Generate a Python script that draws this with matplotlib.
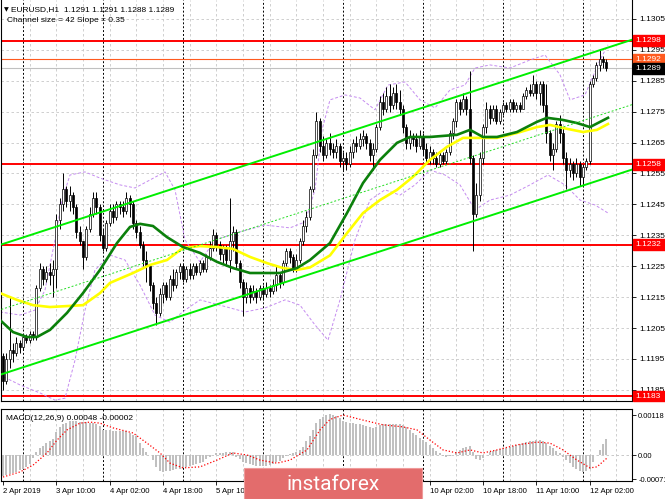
import matplotlib
matplotlib.use('Agg')
import matplotlib.pyplot as plt
import matplotlib.transforms as mtransforms
from matplotlib.patches import Rectangle
import numpy as np

plt.rcParams['font.family'] = ['Liberation Sans', 'DejaVu Sans']

# EURUSD H1 candles, 2 Apr 18:00 .. 12 Apr 07:00, prices in pips above 1.1100
first_open = 96
closes = [88, 95, 98, 97, 100, 99, 102, 101, 103, 102,
          118, 124, 121, 123, 122, 124, 140, 145, 150, 146,
          148, 144, 136, 133, 128, 137, 142, 147, 144, 135,
          131, 139, 143, 141, 145, 144, 143, 147, 145, 139,
          136, 132, 127, 125, 119, 113, 110, 116, 119, 115,
          121, 119, 123, 125, 121, 124, 122, 125, 123, 126,
          124, 128, 131, 135, 132, 129, 131, 127, 133, 136,
          126, 120, 115, 118, 115, 117, 115, 118, 116, 118,
          117, 119, 122, 120, 126, 130, 128, 124, 127, 133,
          138, 141, 150, 161, 172, 164, 161, 165, 163, 162,
          164, 159, 160, 158, 162, 165, 164, 166, 167, 165,
          161, 163, 170, 178, 176, 180, 177, 181, 178, 176,
          170, 165, 167, 166, 164, 167, 163, 160, 162, 160,
          158, 161, 159, 162, 168, 172, 178, 176, 179, 176,
          160, 142, 148, 160, 170, 176, 173, 176, 172, 175,
          177, 176, 178, 176, 177, 176, 180, 182, 181, 184,
          181, 184, 177, 168, 161, 163, 171, 168, 160, 156,
          158, 155, 158, 154, 157, 159, 184, 186, 190, 192, 191, 189]
highs = [97, 97, 115, 100, 102, 101, 103, 103, 104, 104,
         119, 126, 125, 125, 126, 127, 142, 147, 155, 151,
         151, 149, 145, 138, 133, 138, 144, 149, 149, 145,
         137, 140, 145, 145, 146, 146, 146, 149, 148, 146,
         140, 138, 133, 130, 125, 120, 115, 118, 120, 120,
         122, 124, 124, 126, 126, 125, 126, 126, 126, 127,
         127, 129, 133, 137, 136, 133, 132, 132, 147, 138,
         137, 127, 121, 120, 119, 119, 118, 119, 119, 120,
         119, 121, 125, 123, 127, 131, 131, 129, 129, 134,
         140, 143, 151, 163, 175, 173, 167, 166, 168, 165,
         166, 165, 162, 162, 164, 166, 167, 168, 169, 168,
         166, 165, 171, 180, 181, 183, 184, 183, 184, 182,
         177, 171, 169, 168, 168, 169, 168, 165, 164, 163,
         162, 162, 162, 163, 169, 173, 179, 179, 181, 180,
         188, 161, 152, 162, 171, 178, 177, 177, 177, 176,
         178, 178, 179, 179, 178, 178, 181, 183, 184, 187,
         185, 185, 185, 184, 169, 165, 172, 174, 170, 162,
         160, 159, 160, 159, 158, 160, 185, 187, 191, 195, 193, 192]
lows = [85, 87, 92, 94, 96, 97, 98, 100, 100, 101,
        101, 117, 119, 120, 119, 115, 118, 137, 143, 144,
        143, 142, 134, 132, 124, 127, 136, 141, 142, 133,
        130, 130, 138, 139, 140, 142, 141, 142, 141, 137,
        134, 131, 125, 120, 117, 111, 106, 109, 113, 114,
        114, 117, 118, 121, 120, 120, 121, 121, 122, 122,
        123, 123, 127, 130, 130, 127, 126, 125, 123, 130,
        124, 118, 109, 113, 113, 114, 113, 114, 114, 115,
        115, 116, 117, 118, 119, 125, 126, 123, 123, 126,
        132, 136, 140, 149, 160, 162, 159, 160, 161, 160,
        160, 157, 156, 156, 157, 160, 162, 163, 164, 163,
        159, 156, 162, 169, 174, 175, 175, 176, 176, 174,
        168, 163, 163, 164, 162, 163, 161, 158, 158, 158,
        157, 157, 158, 158, 161, 166, 170, 174, 175, 174,
        158, 130, 141, 146, 158, 168, 171, 172, 171, 171,
        174, 175, 175, 175, 175, 175, 176, 179, 180, 180,
        179, 177, 175, 165, 159, 156, 162, 165, 158, 150,
        154, 153, 154, 151, 151, 156, 158, 183, 185, 188, 189, 188]

# moving averages and bollinger bands (bar index, pips)
green_x = [-0.9, 3, 7.2, 10.2, 14.1, 19.2, 24, 29.1, 34.2, 38.1, 41.1, 45, 49.2, 54,
           59.1, 64.2, 69, 74.1, 79.2, 83.1, 88.2, 92.1, 98.1, 103.2, 108, 113.1,
           118.2, 122.1, 128.1, 136.2, 140.1, 144, 148.2, 154.2, 160.2, 163.2, 168,
           172.2, 176.1, 181.5]
green_y = [107.6, 103.7, 102.1, 102.1, 104.4, 109.9, 116.3, 123.8, 132.5, 137.7, 138.7,
           138, 134.4, 131.2, 129.3, 126.4, 124.4, 122.8, 122.8, 122.8, 124.4, 127,
           132.5, 142.2, 151.9, 159.4, 164.9, 166.8, 166.8, 167.5, 169.1, 166.8, 166.8,
           168.4, 171.7, 173, 172.3, 171.3, 170, 173]
yellow_x = [-0.9, 4.2, 9, 14.1, 19.2, 24, 29.1, 32.1, 39, 44.1, 49.2, 54, 59.1, 64.2,
            69, 74.1, 79.2, 84, 88.2, 92.1, 98.1, 103.2, 108, 113.1, 118.2, 123, 128.1,
            133.2, 138, 143.1, 148.2, 154.2, 160.2, 164.1, 168, 174, 178.2, 181.5]
yellow_y = [116.3, 114.1, 112.4, 111.8, 112.1, 112.4, 116.3, 119.6, 122.8, 125.4, 127,
            130.9, 131.5, 131.2, 130.6, 128, 126, 124.4, 123.8, 124.6, 128.5, 135.7,
            142.2, 146.4, 149.7, 153.9, 159.4, 163.6, 166.5, 166.5, 166.5, 168.1, 170,
            170.7, 169.7, 168.4, 169.1, 171]
bb_up_x = [-0.9, 5.1, 9.6, 12.6, 15.6, 17.7, 20.1, 24.6, 29.1, 35.1, 39.6, 44.1, 48.6,
           51.6, 54.6, 59.1, 63.6, 71.1, 78.6, 86.1, 90.6, 93.6, 95.7, 98.1, 102.6,
           107.1, 111.6, 115.5, 120.6, 125.1, 129.6, 134.1, 138.6, 141.6, 146.1,
           152.1, 158.1, 162.6, 167.1, 170.1, 174.6, 179.1, 181.5]
bb_up_y = [110.2, 109.2, 110.8, 117.3, 133.5, 146.4, 154.5, 155.5, 153.5, 151.3, 150.3,
           152.9, 155.5, 149.7, 133.5, 126.4, 133.5, 136.1, 138.3, 137.4, 139.3, 149.7,
           169.1, 178.8, 180.4, 179.4, 175.6, 183.6, 184.6, 178.8, 176.2, 182, 183.6,
           189.1, 190.1, 189.1, 191.7, 193.3, 186.9, 178.8, 180.4, 191.7, 196.6]
bb_lo_x = [-0.9, 5.1, 11.1, 15.6, 18.6, 21.6, 24.6, 27.6, 32.1, 36.6, 41.1, 45.6, 50.1,
           54.6, 59.1, 65.1, 72.6, 78.6, 84.6, 89.1, 93.6, 97.5, 101.1, 105.6, 110.1,
           114.6, 119.1, 123.6, 128.1, 132.6, 137.1, 141.6, 146.1, 152.1, 158.1,
           163.5, 168.6, 173.1, 177.6, 181.5]
bb_lo_y = [89.8, 86.6, 84, 81.7, 82.3, 94.6, 110.8, 123.8, 128.6, 127, 118.9, 109.2,
           106.9, 110.8, 114.1, 112.4, 110.2, 111.5, 114.1, 112.4, 106, 101.1, 114.1,
           133.5, 146.4, 149.7, 148, 151.3, 156.1, 154.5, 151.3, 143.2, 146.4, 148,
           151.3, 154.5, 151.3, 146.4, 144.8, 142.2]

# regression channel: upper line at bar 0 and slope per bar (pips)
chan_upper0 = 132.2
chan_size = 42
chan_slope = 0.35

levels = [1.1298, 1.1258, 1.1232, 1.1183]
ask, bid = 1.1292, 1.1289

# MACD(12,26,9) histogram and signal, in 1e-5
macd = [-63, -60, -57, -53, -49, -45, -40, -35, -28, -10,
        10, 20, 28, 35, 42, 48, 68, 83, 92, 95,
        100, 100, 100, 98, 98, 98, 95, 93, 92, 85,
        74, 74, 73, 72, 72, 71, 70, 70, 65, 60,
        55, 35, 20, 10, 0, -15, -35, -48, -50, -48,
        -46, -44, -42, -40, -38, -35, -33, -30, -27, -24,
        -20, -12, -6, 0, 5, 6, 6, 8, 10, 8,
        -5, -12, -20, -25, -28, -30, -32, -33, -33, -32,
        -30, -27, -22, -17, -10, -3, 3, 5, 8, 15,
        25, 40, 55, 75, 95, 105, 112, 118, 120, 118,
        115, 108, 100, 97, 95, 94, 92, 90, 88, 85,
        82, 80, 83, 88, 90, 92, 92, 92, 92, 90,
        88, 82, 75, 65, 58, 50, 45, 38, 30, 22,
        12, 5, -2, -5, -3, 0, 8, 15, 20, 25,
        28, 10, -12, -15, -8, 0, 8, 12, 15, 18,
        20, 22, 25, 28, 30, 32, 35, 38, 40, 42,
        43, 43, 40, 35, 28, 22, 12, 5, -5, -15,
        -25, -35, -42, -48, -50, -48, -40, -20, 0, 15, 32, 48]
sig_x = [0, 5.1, 9, 13.2, 16.2, 19.2, 23.1, 26.1, 29.1, 33, 39, 43.2, 47.1, 50.1, 54,
         59.1, 64.2, 69, 73.2, 77.1, 82.2, 86.1, 91.2, 95.1, 98.1, 102, 108, 114, 120,
         124.2, 128.1, 132, 136.2, 140.1, 144, 148.2, 154.2, 160.2, 164.1, 168, 172.2,
         176.1, 178.2, 181.2]
sig_y = [-65, -50, -30, 6, 44, 74, 94, 97, 94, 80, 65, 35, 6, -24, -38, -35, -15, 6, 0,
         -15, -24, -15, 15, 74, 105, 118, 103, 89, 83, 74, 44, 15, 6, 15, 6, 15, 30, 38,
         35, 15, -15, -38, -35, -9]

# time axis: labels under the watermark are hidden in the original
tick_bars = [0, 16, 32, 48, 64, 80, 96, 112, 128, 144, 160, 176]
tick_labels = ['2 Apr 2019', '3 Apr 10:00', '4 Apr 02:00', '4 Apr 18:00', '5 Apr 10:00',
               '', '', '', '10 Apr 02:00', '10 Apr 18:00', '11 Apr 10:00', '12 Apr 02:00']
day_starts = [6, 30, 54, 78, 102, 126, 150, 174]


def px(v):
    return 1.11 + np.asarray(v, dtype=float) / 10000


W, H = 665, 499
fig = plt.figure(figsize=(W / 100, H / 100), dpi=100)


def rect(x0, y0, x1, y1):
    return [x0 / W, 1 - y1 / H, (x1 - x0) / W, (y1 - y0) / H]


ax = fig.add_axes(rect(1, 0, 632, 401))
ax2 = fig.add_axes(rect(1, 409, 632, 481))
xlim = (-0.6, 188.7)

# ---- main panel
cl = px(closes)
op = px([first_open] + closes[:-1])
hi = np.maximum(px(highs), np.maximum(op, cl))
lo = np.minimum(px(lows), np.minimum(op, cl))
idx = np.arange(len(cl))

for lvl in np.arange(1.1185, 1.1306, 0.001):
    ax.axhline(lvl, color='#c8c8c8', ls=(0, (3, 3)), lw=0.6, zorder=0)
for a in (ax, ax2):
    for b in range(8, 189, 8):
        a.axvline(b, color='#c8c8c8', ls=(0, (3, 3)), lw=0.6, zorder=0)
    for b in day_starts:
        a.axvline(b, color='black', ls=(0, (2, 2)), lw=0.7, zorder=0.5)

for l in levels:
    ax.axhline(l, color='red', lw=1.4, zorder=1)
ax.axhline(ask, color='#ff5a1f', lw=0.8, zorder=1)
ax.axhline(bid, color='#c0c0c0', lw=0.8, zorder=1)

ax.plot(bb_up_x, px(bb_up_y), color='#c58cf0', ls=(0, (3, 2)), lw=0.7, zorder=2)
ax.plot(bb_lo_x, px(bb_lo_y), color='#c58cf0', ls=(0, (3, 2)), lw=0.7, zorder=2)

ax.vlines(idx, lo, hi, color='black', lw=0.7, zorder=3)
body = np.maximum(np.abs(cl - op), 0.00002)
ax.bar(idx, body, bottom=np.minimum(op, cl), width=0.62,
       color=np.where(cl >= op, 'white', 'black'), edgecolor='black',
       linewidth=0.5, zorder=3.5)

ax.plot(yellow_x, px(yellow_y), color='#ffff00', lw=1.9, zorder=4)
ax.plot(green_x, px(green_y), color='#0b800b', lw=1.9, zorder=4.1)

cx = np.array([-0.5, xlim[1]])
up = px(chan_upper0 + chan_slope * cx)
dn = up - chan_size / 10000
ax.plot(cx, up, color='#00ee00', lw=1.4, zorder=4.2)
ax.plot(cx, dn, color='#00ee00', lw=1.4, zorder=4.2)
ax.plot(cx, (up + dn) / 2, color='#22dd22', ls=(0, (2, 2)), lw=0.7, zorder=4.2)

ax.set_xlim(*xlim)
ax.set_ylim(1.11814, 1.13111)
ax.yaxis.tick_right()
yt = np.round(np.arange(1.1185, 1.1306, 0.001), 4)
ax.set_yticks(yt)
ax.set_yticklabels(['%.4f' % v for v in yt])
ax.tick_params(axis='y', length=3, pad=2, labelsize=6, width=0.6)
ax.tick_params(axis='x', bottom=False, labelbottom=False)
for s in ax.spines.values():
    s.set_linewidth(0.8)
ax.spines['top'].set_visible(False)

trans = mtransforms.blended_transform_factory(fig.transFigure, ax.transData)
boxes = [(l, 'red') for l in levels] + [(ask, '#ff5a1f'), (bid, 'black')]
for price, fc in boxes:
    ax.add_patch(Rectangle((633 / W, price - 0.000175), 32 / W, 0.00035,
                           transform=trans, fc=fc, ec=fc, clip_on=False, zorder=6))
    ax.text(635 / W, price, '%.4f' % price, transform=trans, color='white',
            fontsize=6, ha='left', va='center', clip_on=False, zorder=7)

fig.text(4 / W, 1 - 10 / H, '\u25bc', fontsize=4.5, va='center', family='DejaVu Sans')
fig.text(11 / W, 1 - 10 / H, 'EURUSD,H1  1.1291 1.1291 1.1288 1.1289', fontsize=6,
         va='center')
fig.text(7 / W, 1 - 21 / H, 'Channel size = 42 Slope = 0.35', fontsize=6, va='center')

# ---- MACD panel
ax2.axhline(0, color='#c0c0c0', ls=(0, (3, 3)), lw=0.6, zorder=0)
ax2.bar(idx, np.array(macd) * 1e-5, width=0.62, color='#c0c0c0', zorder=2)
ax2.plot(sig_x, np.array(sig_y) * 1e-5, color='red', ls=(0, (1, 1.6)), lw=0.9, zorder=3)
ax2.set_xlim(*xlim)
ax2.set_ylim(-0.000767, 0.001357)
ax2.yaxis.tick_right()
ax2.set_yticks([0.00118, 0.0, -0.00071])
ax2.set_yticklabels(['0.00118', '0.00', '-0.00071'])
ax2.set_xticks(tick_bars)
ax2.set_xticklabels(tick_labels)
for t in ax2.get_xticklabels():
    t.set_ha('left')
ax2.tick_params(axis='y', length=3, pad=1.5, labelsize=5.4, width=0.6)
ax2.tick_params(axis='x', length=3, pad=2, labelsize=5.6, width=0.6)
for s in ax2.spines.values():
    s.set_linewidth(0.8)
fig.text(6 / W, 1 - 418 / H, 'MACD(12,26,9) 0.00048 -0.00002', fontsize=6, va='center')

# ---- watermark logo
fig.patches.append(Rectangle((244 / W, 0), 178 / W, 31 / H, transform=fig.transFigure,
                             fc='#e36c6c', ec='#ef9a9a', lw=0.8, zorder=20))
fig.text(333 / W, 1 - 484 / H, 'instaforex', color='white', fontsize=15, ha='center',
         va='center', family=['Roboto', 'DejaVu Sans'], zorder=21)

fig.savefig('out.png', dpi=100)
